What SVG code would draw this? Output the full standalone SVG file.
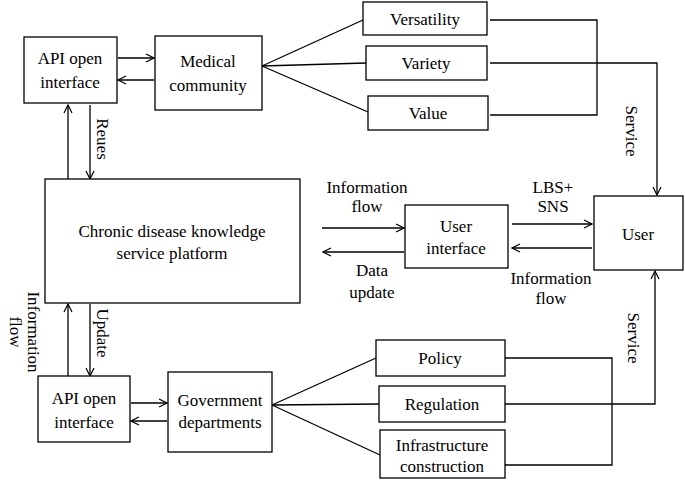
<svg xmlns="http://www.w3.org/2000/svg" width="685" height="485" viewBox="0 0 685 485" font-family="'Liberation Serif', 'Times New Roman', 'DejaVu Serif', serif">
<defs><marker id="a" markerWidth="10" markerHeight="10" refX="9" refY="5" orient="auto" markerUnits="userSpaceOnUse"><path d="M1,1 L9,5 L1,9" fill="none" stroke="#000" stroke-width="1.2"/></marker></defs>
<style>rect{fill:#fff;stroke:#000;stroke-width:1.3}text{font-family:'Liberation Serif','Times New Roman','DejaVu Serif',serif;font-size:17px;fill:#000;text-anchor:middle}.c line,.c path{stroke:#000;stroke-width:1.3;fill:none}.ar{marker-end:url(#a)}</style>
<g class="c">
<line class="ar" x1="118" y1="58" x2="154" y2="58"/><line class="ar" x1="154" y1="80" x2="118" y2="80"/>
<line x1="262" y1="66" x2="363" y2="20"/><line x1="262" y1="66" x2="366" y2="63"/><line x1="262" y1="66" x2="368" y2="112"/>
<path d="M490 20 H597 V115 H490"/><path class="ar" d="M490 63 H657 V195"/>
<line class="ar" x1="68" y1="179" x2="68" y2="105"/><line class="ar" x1="90" y1="105" x2="90" y2="179"/>
<line class="ar" x1="322" y1="228" x2="404" y2="228"/><line class="ar" x1="404" y1="252" x2="323" y2="252"/>
<line class="ar" x1="512" y1="224" x2="592" y2="224"/><line class="ar" x1="592" y1="248" x2="512" y2="248"/>
<line class="ar" x1="68" y1="376" x2="68" y2="304"/><line class="ar" x1="90" y1="304" x2="90" y2="376"/>
<line class="ar" x1="131" y1="403" x2="167" y2="403"/><line class="ar" x1="167" y1="421" x2="131" y2="421"/>
<line x1="272" y1="405" x2="376" y2="358"/><line x1="272" y1="405" x2="379" y2="404"/><line x1="272" y1="405" x2="380" y2="455"/>
<path d="M505 358 H612 V465 H505"/><path class="ar" d="M505 404 H655 V271"/>
</g>
<g id="api1"><rect x="24" y="37" width="93" height="66"/><text x="70" y="64">API open</text><text x="70" y="88">interface</text></g>
<g id="med"><rect x="155" y="36" width="107" height="74"/><text x="208" y="67">Medical</text><text x="208" y="91">community</text></g>
<g id="vers"><rect x="363" y="2" width="124" height="33"/><text x="425" y="25">Versatility</text></g>
<g id="var"><rect x="366" y="46" width="121" height="34"/><text x="426" y="69">Variety</text></g>
<g id="val"><rect x="368" y="96" width="120" height="34"/><text x="428" y="119">Value</text></g>
<g id="plat"><rect x="45" y="179" width="255" height="124"/><text x="172" y="237">Chronic disease knowledge</text><text x="172" y="259">service platform</text></g>
<g id="ui"><rect x="405" y="205" width="103" height="63"/><text x="456" y="232">User</text><text x="456" y="254">interface</text></g>
<g id="user"><rect x="594" y="196" width="89" height="74"/><text x="638" y="240">User</text></g>
<g id="api2"><rect x="38" y="376" width="92" height="66"/><text x="84" y="404">API open</text><text x="84" y="428">interface</text></g>
<g id="gov"><rect x="168" y="372" width="104" height="80"/><text x="220" y="406">Government</text><text x="220" y="428">departments</text></g>
<g id="pol"><rect x="376" y="340" width="129" height="36"/><text x="440" y="364">Policy</text></g>
<g id="reg"><rect x="379" y="386" width="126" height="36"/><text x="442" y="410">Regulation</text></g>
<g id="inf"><rect x="380" y="430" width="125" height="48"/><text x="442" y="451">Infrastructure</text><text x="442" y="472">construction</text></g>
<text x="367" y="193">Information</text><text x="367" y="212">flow</text>
<text x="372" y="276">Data</text><text x="372" y="298">update</text>
<text x="553" y="193">LBS+</text><text x="553" y="212">SNS</text>
<text x="551" y="284">Information</text><text x="551" y="304">flow</text>
<text transform="translate(97,139) rotate(90)">Reues</text>
<text transform="translate(97,333) rotate(90)">Update</text>
<text transform="translate(626,131) rotate(90)">Service</text>
<text transform="translate(628,338) rotate(90)">Service</text>
<text transform="translate(28,332) rotate(90)">Information</text>
<text transform="translate(10,332) rotate(90)">flow</text>
</svg>
